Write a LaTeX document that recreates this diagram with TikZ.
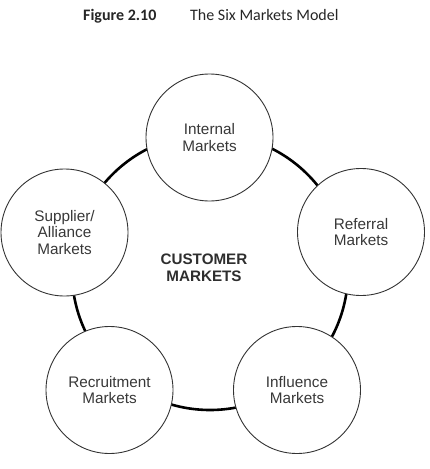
\documentclass[tikz,border=0pt]{standalone}
\usepackage{fontspec}
\setmainfont{Liberation Sans}
\newfontfamily\titlefont{Carlito}
\begin{document}
\begin{tikzpicture}[x=1pt,y=-1pt,
  market/.style={circle, draw=black!80, line width=0.9pt, fill=white, minimum size=127pt, inner sep=0pt,
    align=center, text=black!78, font=\fontsize{15.3}{16.9}\selectfont},
  ring/.style={line width=2.6pt, black},
  centerlabel/.style={align=center, text=black!82, font=\fontsize{15.2}{16.9}\selectfont\bfseries},
  titlestyle/.style={anchor=base west, text=black!85, inner sep=0pt}]
\useasboundingbox (0,0) rectangle (430,469);
\node[titlestyle, font=\titlefont\fontsize{16}{19}\selectfont\bfseries] (fig) at (83,20) {Figure 2.10};
\node[titlestyle, font=\titlefont\fontsize{16}{19}\selectfont] (ttl) at (190,20) {The Six Markets Model};
\coordinate (c) at (210,272);
\draw[ring] (c) circle[radius=138];
\node[market] (internal) at (209.5,137.5) {Internal\\Markets};
\node[market] (referral) at (361,232) {Referral\\Markets};
\node[market] (influence) at (297,390) {Influence\\Markets};
\node[market] (recruit) at (109.5,390) {Recruitment\\Markets};
\node[market] (supplier) at (64.5,232.5) {Supplier/\\Alliance\\Markets};
\node[centerlabel] (customer) at (204,268) {CUSTOMER\\MARKETS};
\end{tikzpicture}
\end{document}
